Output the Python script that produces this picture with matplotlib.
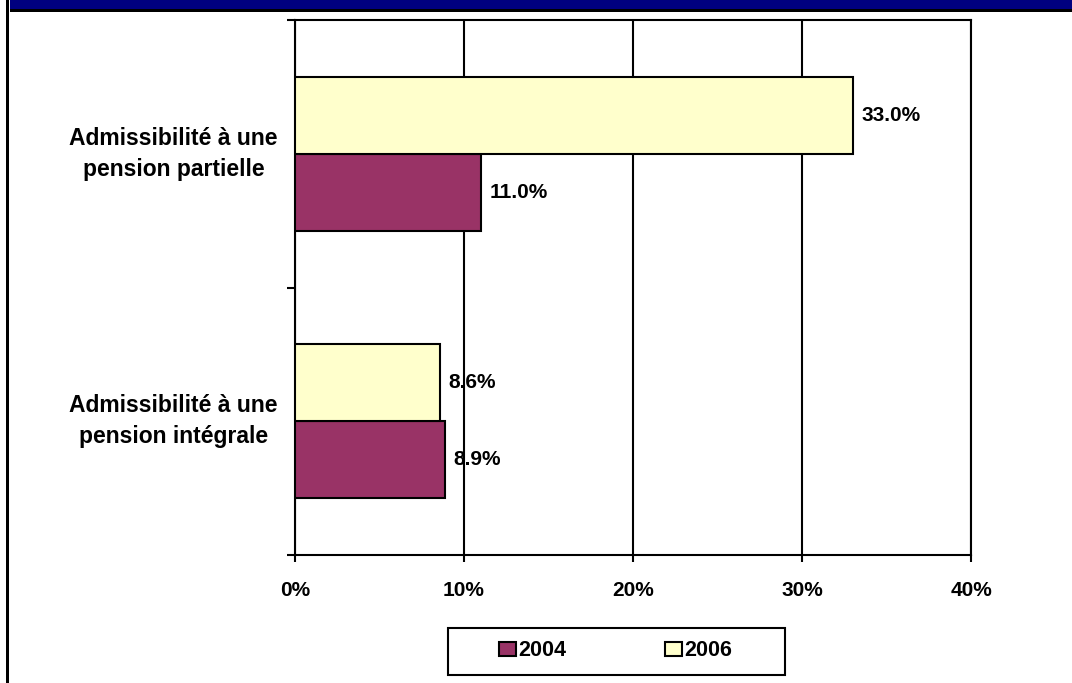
import numpy as np
import matplotlib.pyplot as plt
import matplotlib.transforms as mtransforms
from matplotlib.patches import Rectangle

plt.rcParams['font.family'] = ['Liberation Sans', 'DejaVu Sans']
plt.rcParams['font.weight'] = 'bold'

categories = ['Admissibilité à une\npension intégrale',
              'Admissibilité à une\npension partielle']
years = ['2004', '2006']
vals_2004 = [8.9, 11.0]
vals_2006 = [8.6, 33.0]
colors = {'2004': '#993366', '2006': '#FFFFCC'}
xticks = [0, 10, 20, 30, 40]
xtick_labels = ['0%', '10%', '20%', '30%', '40%']

W, H = 1072, 683
fig = plt.figure(figsize=(W / 100, H / 100), dpi=100)
ax = fig.add_axes([295 / W, 1 - 555 / H, 676 / W, 535 / H])

pos = np.arange(len(categories)) + 0.5
h = 0.287
b04 = ax.barh(pos - h / 2, vals_2004, height=h, color=colors['2004'],
              edgecolor='black', linewidth=1.5, label='2004', zorder=3)
b06 = ax.barh(pos + h / 2, vals_2006, height=h, color=colors['2006'],
              edgecolor='black', linewidth=1.5, label='2006', zorder=3)

# valeurs à droite des barres
for bars, vals in [(b04, vals_2004), (b06, vals_2006)]:
    for bar, v in zip(bars, vals):
        ax.annotate(f'{v:.1f}%', (v, bar.get_y() + bar.get_height() / 2),
                    xytext=(6, 0), textcoords='offset points',
                    ha='left', va='center', fontsize=15, fontweight='bold',
                    zorder=4)

ax.set_xlim(0, 40)
ax.set_ylim(0, 2)
ax.set_xticks(xticks)
ax.set_xticklabels(xtick_labels, fontsize=15, fontweight='bold')
ax.set_yticks([0, 1, 2])
ax.set_yticklabels([])
ax.tick_params(axis='x', direction='out', length=5, width=1.5, pad=14)
ax.tick_params(axis='y', direction='out', length=6, width=1.5)
ax.grid(axis='x', color='black', linewidth=1.5, zorder=1)
for s in ax.spines.values():
    s.set_linewidth(1.5)

# étiquettes des catégories, centrées à gauche de l'axe
trans = mtransforms.blended_transform_factory(ax.transAxes, ax.transData)
for p, lab in zip(pos, categories):
    ax.text(-0.18, p, lab, transform=trans, ha='center', va='center',
            multialignment='center', fontsize=16.5, fontweight='bold',
            linespacing=1.45)

# légende encadrée sous le graphique
fig.add_artist(Rectangle((448 / W, 1 - 675 / H), 337 / W, 47 / H,
                         transform=fig.transFigure, facecolor='white',
                         edgecolor='black', linewidth=1.5))
fig.legend(handles=[b04, b06], labels=years, loc='center',
           bbox_to_anchor=(615.5 / W, 1 - 651 / H), ncol=2, frameon=False,
           fontsize=15.5, handlelength=0.8, handleheight=0.63,
           handletextpad=0.1, columnspacing=4.6, borderpad=0)

# bandeau bleu en haut et filet à gauche
fig.add_artist(Rectangle((10 / W, 1 - 9 / H), 1, 9 / H,
                         transform=fig.transFigure, facecolor='#000080',
                         edgecolor='none'))
fig.add_artist(Rectangle((10 / W, 1 - 12 / H), 1, 3 / H,
                         transform=fig.transFigure, facecolor='black',
                         edgecolor='none'))
fig.add_artist(Rectangle((6 / W, 0), 3 / W, 1,
                         transform=fig.transFigure, facecolor='black',
                         edgecolor='none'))

plt.savefig('out.png', dpi=100)
